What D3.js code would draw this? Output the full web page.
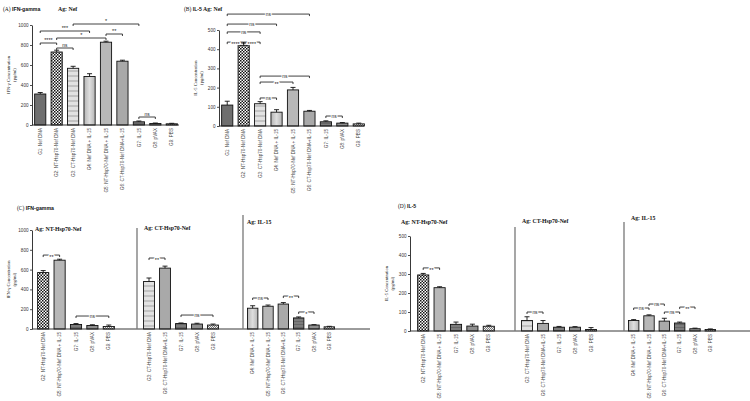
<!DOCTYPE html>
<html>
<head>
<meta charset="utf-8">
<script src="https://cdnjs.cloudflare.com/ajax/libs/d3/7.8.5/d3.min.js"></script>
<style>
body { margin: 0; background: #fff; }
svg text { font-family: "Liberation Sans", Arial, sans-serif; }
</style>
</head>
<body>
<svg id="chart" width="750" height="401"></svg>
<script>
// group names (x tick labels)
var groupCodes = ["G1", "G2", "G3", "G4", "G5", "G6", "G7", "G8", "G9"];
var groupNames = ["G1: Nef DNA", "G2: NT-Hsp70-Nef DNA", "G3: CT-Hsp70-Nef DNA", "G4: Nef DNA + IL-15",
	"G5: NT-Hsp70-Nef DNA + IL-15", "G6: CT-Hsp70-Nef DNA+IL-15", "G7: IL-15", "G8: pVAX", "G9: PBS"];

// (A) IFN-gamma, Ag: Nef
var ifnNefMean = [310, 730, 567, 485, 828, 638, 32, 15, 12];
var ifnNefSem = [15, 18, 20, 28, 10, 10, 8, 5, 5];
var ifnNefBrackets = [["G1", "G4", 940, "***"], ["G3", "G7", 1010, "*"], ["G2", "G5", 870, "*"],
	["G1", "G2", 820, "****"], ["G2", "G3", 770, "ns"], ["G5", "G6", 910, "**"], ["G7", "G8", 80, "ns"]];

// (B) IL-5, Ag: Nef
var il5NefMean = [109, 420, 116, 72, 188, 77, 22, 15, 11];
var il5NefSem = [20, 12, 11, 13, 13, 4, 5, 3, 4];
var il5NefBrackets = [["G1", "G6", 583, "ns"], ["G1", "G4", 531, "ns"], ["G1", "G3", 490, "ns"],
	["G1", "G2", 437, "****"], ["G2", "G3", 437, "****"], ["G3", "G6", 260, "ns"],
	["G3", "G5", 229, "**"], ["G3", "G4", 146, "ns"], ["G7", "G8", 52, "ns"]];

// (C) IFN-gamma, three antigens
var ntCodes = ["G2", "G5", "G7", "G8", "G9"];
var ctCodes = ["G3", "G6", "G7", "G8", "G9"];
var ilCodes = ["G4", "G5", "G6", "G7", "G8", "G9"];

var ifnNtMean = [570, 695, 45, 35, 25];
var ifnNtSem = [20, 10, 10, 8, 15];
var ifnNtBrackets = [["G2", "G5", 747, "**"], ["G7", "G9", 131, "ns"]];
var ifnCtMean = [480, 615, 55, 50, 40];
var ifnCtSem = [35, 20, 6, 8, 10];
var ifnCtBrackets = [["G3", "G6", 717, "**"], ["G7", "G9", 141, "ns"]];
var ifnIlMean = [210, 230, 252, 112, 40, 22];
var ifnIlSem = [25, 12, 15, 10, 4, 5];
var ifnIlBrackets = [["G4", "G5", 313, "ns"], ["G6", "G7", 333, "**"], ["G7", "G8", 172, "*"]];

// (D) IL-5, three antigens
var il5NtMean = [295, 228, 35, 26, 25];
var il5NtSem = [8, 5, 12, 10, 5];
var il5NtBrackets = [["G2", "G5", 332, "**"]];
var il5CtMean = [55, 40, 20, 20, 8];
var il5CtSem = [20, 15, 4, 3, 10];
var il5CtBrackets = [["G3", "G6", 100, "ns"]];
var il5IlMean = [55, 80, 52, 42, 12, 8];
var il5IlSem = [5, 5, 15, 5, 3, 3];
var il5IlBrackets = [["G4", "G5", 121, "ns"], ["G5", "G6", 142, "ns"], ["G6", "G7", 100, "ns"], ["G7", "G8", 126, "**"]];

var ifnTicks = [0, 200, 400, 600, 800, 1000];
var il5Ticks = [0, 100, 200, 300, 400, 500];

var svg = d3.select("#chart");
var defs = svg.append("defs");

// bar fills
var checker = defs.append("pattern").attr("id", "checker").attr("patternUnits", "userSpaceOnUse")
	.attr("width", 3).attr("height", 3);
checker.append("rect").attr("width", 3).attr("height", 3).attr("fill", "#fff");
checker.append("rect").attr("width", 1.5).attr("height", 1.5).attr("fill", "#111");
checker.append("rect").attr("x", 1.5).attr("y", 1.5).attr("width", 1.5).attr("height", 1.5).attr("fill", "#111");

var checkerLight = defs.append("pattern").attr("id", "checkerLight").attr("patternUnits", "userSpaceOnUse")
	.attr("width", 2).attr("height", 2);
checkerLight.append("rect").attr("width", 2).attr("height", 2).attr("fill", "#eee");
checkerLight.append("rect").attr("width", 1).attr("height", 1).attr("fill", "#777");
checkerLight.append("rect").attr("x", 1).attr("y", 1).attr("width", 1).attr("height", 1).attr("fill", "#777");

var hstripe = defs.append("pattern").attr("id", "hstripe").attr("patternUnits", "userSpaceOnUse")
	.attr("width", 4).attr("height", 5);
hstripe.append("rect").attr("width", 4).attr("height", 5).attr("fill", "#e2e2e2");
hstripe.append("rect").attr("width", 4).attr("height", 2).attr("fill", "#c2c2c2");

var darkstripe = defs.append("pattern").attr("id", "darkstripe").attr("patternUnits", "userSpaceOnUse")
	.attr("width", 4).attr("height", 3);
darkstripe.append("rect").attr("width", 4).attr("height", 3).attr("fill", "#7c7c7c");
darkstripe.append("rect").attr("width", 4).attr("height", 1).attr("fill", "#666");

var grad = defs.append("linearGradient").attr("id", "lightgrad").attr("x1", 0).attr("x2", 1).attr("y1", 0).attr("y2", 0);
grad.append("stop").attr("offset", "0%").attr("stop-color", "#b5b5b5");
grad.append("stop").attr("offset", "50%").attr("stop-color", "#dedede");
grad.append("stop").attr("offset", "100%").attr("stop-color", "#b5b5b5");

var groupFill = { G1: "#6f6f6f", G2: "url(#checker)", G3: "url(#hstripe)", G4: "url(#lightgrad)",
	G5: "#b7b7b7", G6: "#a9a9a9", G7: "url(#darkstripe)", G8: "#8f8f8f", G9: "url(#checkerLight)" };

var nameOf = function(code){
	return groupNames[groupCodes.indexOf(code)];
};

// one block of bars on a shared y scale
var drawSection = function(g, codes, mean, sem, brackets, x0, x1, y, labelsAbove){
	var x = d3.scaleBand().domain(codes).range([x0, x1]).paddingInner(0.32).paddingOuter(0.16);
	var rows = codes.map(function(c, i){ return { code: c, mean: mean[i], sem: sem[i] }; });
	var base = y(0);

	g.selectAll(null).data(rows).enter().append("rect")
		.attr("x", function(d){ return x(d.code); })
		.attr("y", function(d){ return y(d.mean); })
		.attr("width", x.bandwidth())
		.attr("height", function(d){ return base - y(d.mean); })
		.attr("fill", function(d){ return groupFill[d.code]; })
		.attr("stroke", "#111").attr("stroke-width", 0.9);

	var cx = function(c){ return x(c) + x.bandwidth() / 2; };
	var err = g.selectAll(null).data(rows).enter().append("g").attr("stroke", "#111").attr("stroke-width", 0.9);
	err.append("line")
		.attr("x1", function(d){ return cx(d.code); }).attr("x2", function(d){ return cx(d.code); })
		.attr("y1", function(d){ return y(d.mean); }).attr("y2", function(d){ return y(d.mean + d.sem); });
	err.append("line")
		.attr("x1", function(d){ return cx(d.code) - 2.5; }).attr("x2", function(d){ return cx(d.code) + 2.5; })
		.attr("y1", function(d){ return y(d.mean + d.sem); }).attr("y2", function(d){ return y(d.mean + d.sem); });

	// rotated tick labels
	var xAxis = g.append("g").attr("transform", "translate(0," + base + ")")
		.call(d3.axisBottom(x).tickSize(0).tickSizeOuter(0).tickFormat(nameOf));
	xAxis.select(".domain").remove();
	xAxis.selectAll("text")
		.attr("x", -3).attr("y", 0).attr("dy", "0.35em")
		.attr("transform", "rotate(-90)")
		.style("text-anchor", "end")
		.style("font-size", "4.6px")
		.attr("fill", "#444");

	// significance brackets
	brackets.forEach(function(b){
		var xa = cx(b[0]), xb = cx(b[1]), yy = y(b[2]);
		g.append("path")
			.attr("d", "M" + xa + "," + (yy + 2) + "V" + yy + "H" + xb + "V" + (yy + 2))
			.attr("fill", "none").attr("stroke", "#111").attr("stroke-width", 0.8);
		var t = g.append("text")
			.attr("x", (xa + xb) / 2)
			.attr("text-anchor", "middle")
			.style("font-size", b[3] === "ns" ? "4.8px" : "5.5px")
			.attr("fill", "#222")
			.text(b[3]);
		if (labelsAbove) {
			t.attr("y", yy - 1.2);
		} else {
			t.attr("y", yy).attr("dy", b[3] === "ns" ? "0.35em" : "0.7em")
				.attr("stroke", "#fff").attr("stroke-width", 2).attr("paint-order", "stroke");
		}
	});
};

var drawYAxis = function(g, y, x, ticks, title){
	var ax = g.append("g").attr("transform", "translate(" + x + ",0)")
		.call(d3.axisLeft(y).tickValues(ticks).tickFormat(d3.format("d"))
			.tickSize(2).tickSizeOuter(0).tickPadding(1.5));
	ax.select(".domain").attr("stroke", "#222").attr("stroke-width", 0.9);
	ax.selectAll(".tick line").attr("stroke", "#222").attr("stroke-width", 0.8);
	ax.selectAll("text").style("font-size", "4.6px").attr("fill", "#333");
	var mid = (y.range()[0] + y.range()[1]) / 2;
	var t = g.append("text")
		.attr("transform", "translate(" + (x - 22) + "," + mid + ") rotate(-90)")
		.attr("text-anchor", "middle")
		.style("font-family", "'Liberation Serif', serif")
		.style("font-size", "4.6px")
		.attr("fill", "#222");
	t.append("tspan").attr("x", 0).attr("dy", 0).text(title);
	t.append("tspan").attr("x", 0).attr("dy", "1.2em").text("(pg/ml)");
};

var baseLine = function(g, x0, x1, yy){
	g.append("line").attr("x1", x0).attr("x2", x1).attr("y1", yy).attr("y2", yy)
		.attr("stroke", "#222").attr("stroke-width", 0.9);
};

var divider = function(g, xx, y0, y1){
	g.append("line").attr("x1", xx).attr("x2", xx).attr("y1", y0).attr("y2", y1)
		.attr("stroke", "#777").attr("stroke-width", 1.3);
};

var header = function(x, y, tag, name){
	var t = svg.append("text").attr("x", x).attr("y", y).attr("fill", "#111");
	t.append("tspan").style("font-family", "'Liberation Serif', serif").style("font-size", "5.5px").text(tag + "  ");
	t.append("tspan").style("font-weight", "bold").style("font-size", "5.2px").text(name);
};

var agLabel = function(x, y, text){
	svg.append("text").attr("x", x).attr("y", y)
		.style("font-family", "'Liberation Serif', serif").style("font-weight", "bold")
		.style("font-size", "5.8px").attr("fill", "#111").text(text);
};

// ---- panel A ----
var gA = svg.append("g");
var yA = d3.scaleLinear().domain([0, 1000]).range([125, 25]);
drawSection(gA, groupCodes, ifnNefMean, ifnNefSem, ifnNefBrackets, 32, 180, yA, true);
baseLine(gA, 32, 179, 125);
drawYAxis(gA, yA, 32, ifnTicks, "IFN-\u03b3 Concentration");
header(3, 11, "(A)", "IFN-gamma");
agLabel(58, 11, "Ag: Nef");

// ---- panel B ----
var gB = svg.append("g");
var yB = d3.scaleLinear().domain([0, 500]).range([126, 30]);
drawSection(gB, groupCodes, il5NefMean, il5NefSem, il5NefBrackets, 219, 367, yB, false);
baseLine(gB, 219, 364, 126);
drawYAxis(gB, yB, 219, il5Ticks, "IL-5 Concentration");
header(184, 11, "(B)", "IL-5");
agLabel(203, 11, "Ag: Nef");

// ---- panel C ----
var gC = svg.append("g");
var yC = d3.scaleLinear().domain([0, 1000]).range([329, 230]);
drawSection(gC, ntCodes, ifnNtMean, ifnNtSem, ifnNtBrackets, 35, 117, yC, false);
drawSection(gC, ctCodes, ifnCtMean, ifnCtSem, ifnCtBrackets, 141, 221, yC, false);
drawSection(gC, ilCodes, ifnIlMean, ifnIlSem, ifnIlBrackets, 245, 337, yC, false);
baseLine(gC, 32, 370, 329);
divider(gC, 137, 228, 329);
divider(gC, 243, 215, 329);
drawYAxis(gC, yC, 32, ifnTicks, "IFN-\u03b3 Concentration");
header(17, 210, "(C)", "IFN-gamma");
agLabel(35, 231, "Ag:  NT-Hsp70-Nef");
agLabel(144, 230, "Ag: CT-Hsp70-Nef");
agLabel(247, 224, "Ag: IL-15");

// ---- panel D ----
var gD = svg.append("g");
var yD = d3.scaleLinear().domain([0, 500]).range([331, 236]);
drawSection(gD, ntCodes, il5NtMean, il5NtSem, il5NtBrackets, 415, 497, yD, false);
drawSection(gD, ctCodes, il5CtMean, il5CtSem, il5CtBrackets, 519, 599, yD, false);
drawSection(gD, ilCodes, il5IlMean, il5IlSem, il5IlBrackets, 626, 718, yD, false);
baseLine(gD, 410, 750, 331);
divider(gD, 515, 227, 331);
divider(gD, 624, 222, 331);
drawYAxis(gD, yD, 410, il5Ticks, "IL-5 Concentration");
header(398, 208, "(D)", "IL-5");
agLabel(401, 224, "Ag:  NT-Hsp70-Nef");
agLabel(522, 223, "Ag: CT-Hsp70-Nef");
agLabel(631, 220, "Ag: IL-15");
</script>
</body>
</html>
